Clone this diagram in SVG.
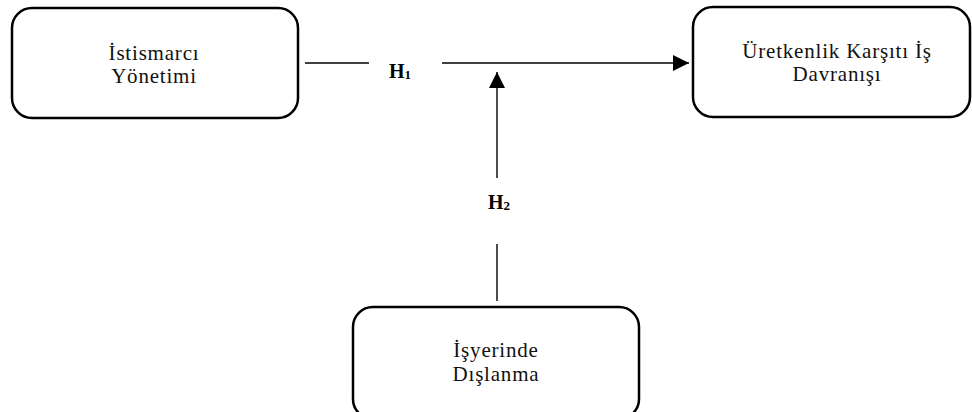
<svg xmlns="http://www.w3.org/2000/svg" width="972" height="412" viewBox="0 0 972 412">
<style>
.box{fill:#fff;stroke:#000;stroke-width:2.5}
.t{font-family:"Liberation Serif",serif;font-size:21px;letter-spacing:0.8px;text-anchor:middle;fill:#111}
.h{font-family:"Liberation Serif",serif;font-size:20px;font-weight:bold;fill:#000}
.ln{stroke:#000;stroke-width:1.4;fill:none}
</style>
<defs>
<marker id="ah" viewBox="0 0 16 16" refX="16" refY="8" markerWidth="16" markerHeight="16" markerUnits="userSpaceOnUse" orient="auto">
<path d="M0,0 L16,8 L0,16 Z" fill="#000"/>
</marker>
</defs>
<rect width="972" height="412" fill="#fff"/>
<g id="connectors">
<line class="ln" x1="305" y1="63" x2="369" y2="63"/>
<line class="ln" x1="442" y1="63" x2="689" y2="63" marker-end="url(#ah)"/>
<line class="ln" x1="497" y1="178" x2="497" y2="72" marker-end="url(#ah)"/>
<line class="ln" x1="497" y1="301" x2="497" y2="244"/>
<text class="h" x="389" y="78">H<tspan font-size="13" dy="1">1</tspan></text>
<text class="h" x="488" y="209">H<tspan font-size="13" dy="1">2</tspan></text>
</g>
<g id="node-istismarci">
<rect class="box" x="12" y="8" width="286" height="110" rx="20"/>
<text class="t" x="154" y="60">İstismarcı</text>
<text class="t" x="154" y="83">Yönetimi</text>
</g>
<g id="node-uretkenlik">
<rect class="box" x="693" y="7" width="277" height="110" rx="20"/>
<text class="t" x="837" y="58">Üretkenlik Karşıtı İş</text>
<text class="t" x="837" y="81">Davranışı</text>
</g>
<g id="node-isyerinde">
<rect class="box" x="353" y="307" width="286" height="112" rx="20"/>
<text class="t" x="496" y="357">İşyerinde</text>
<text class="t" x="496" y="381">Dışlanma</text>
</g>
</svg>
